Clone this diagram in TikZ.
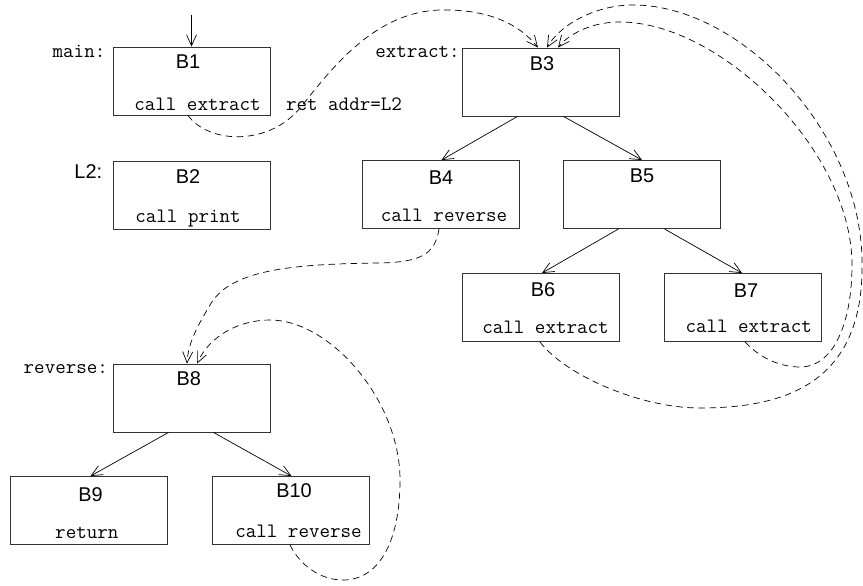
\documentclass[tikz,border=0pt]{standalone}
\usepackage{fontspec}
\setmainfont{Liberation Sans}
\usetikzlibrary{arrows.meta}
\begin{document}
\begin{tikzpicture}[x=1bp,y=-1bp,
  box/.style={draw=black!80, line width=0.9bp, minimum width=157bp, minimum height=68bp, inner sep=0pt},
  ttl/.style={font=\fontsize{20}{22}\selectfont, inner sep=0pt, anchor=base},
  code/.style={font=\fontsize{20.5}{22}\selectfont\ttfamily, inner sep=0pt, anchor=base},
  arr/.style={-{Straight Barb[length=11bp,width=10bp]}, line width=0.7bp},
  dsh/.style={arr, dash pattern=on 6.5bp off 4.5bp}]
\useasboundingbox (0,0) rectangle (863,586);
% boxes
\node[box] (b1) at (191.5,81) {};
\node[box] (b2) at (191.5,195.5) {};
\node[box] (b3) at (540.5,82) {};
\node[box] (b4) at (440.5,194.5) {};
\node[box] (b5) at (641.5,194.5) {};
\node[box] (b6) at (540.5,307.5) {};
\node[box] (b7) at (742.5,307.5) {};
\node[box] (b8) at (191.5,398) {};
\node[box] (b9) at (88.5,510.5) {};
\node[box] (b10) at (290.5,510.5) {};
% titles
\node[ttl] (t1) at (188,69) {B1};
\node[ttl] (t2) at (188,184) {B2};
\node[ttl] (t3) at (542,71) {B3};
\node[ttl] (t4) at (441,185) {B4};
\node[ttl] (t5) at (642,183) {B5};
\node[ttl] (t6) at (543,296) {B6};
\node[ttl] (t7) at (746,297) {B7};
\node[ttl] (t8) at (188.7,385) {B8};
\node[ttl] (t9) at (90.5,501) {B9};
\node[ttl] (t10) at (294,497) {B10};
% code lines
\node[code] (c1) at (197.5,111) {call extract};
\node[code] (c2) at (188,223) {call print};
\node[code] (c4) at (444,221.7) {call reverse};
\node[code] (c6) at (545.5,333.3) {call extract};
\node[code] (c7) at (748.7,332.3) {call extract};
\node[code] (c9) at (86.8,538.3) {return};
\node[code] (c10) at (298.5,537.7) {call reverse};
% labels
\node[code] (lmain) at (79,57.3) {main:};
\node[code] (lext) at (417.5,57.3) {extract:};
\node[code] (lrev) at (65.8,373.3) {reverse:};
\node[code] (lret) at (344,111) {ret addr=L2};
\node[ttl] (ll2) at (88.3,179) {L2:};
% entry arrow
\coordinate (entry) at (191.5,15);
\draw[arr] (entry) -- (b1.north);
% tree edges
\draw[arr] ([xshift=-23bp]b3.south) -- ([xshift=1bp]b4.north);
\draw[arr] ([xshift=23bp]b3.south) -- ([xshift=0.5bp]b5.north);
\draw[arr] ([xshift=-23bp]b5.south) -- ([xshift=1.5bp]b6.north);
\draw[arr] ([xshift=23bp]b5.south) -- ([xshift=-0.5bp]b7.north);
\draw[arr] ([xshift=-23bp]b8.south) -- ([xshift=2bp]b9.north);
\draw[arr] ([xshift=22bp]b8.south) -- ([xshift=1bp]b10.north);
% call / return dashed curves
\draw[dsh] ([xshift=-3.5bp]b1.south) .. controls (210,145) and (270,145) .. (300,108)
  .. controls (325,78) and (370,12) .. (440,10)
  .. controls (490,9) and (520,25) .. ([xshift=-2.5bp]b3.north);
\draw[dsh] ([xshift=-0.5bp]b6.south) .. controls (565,375) and (640,408) .. (700,408)
  .. controls (790,408) and (865,380) .. (862,260)
  .. controls (860,130) and (740,5) .. (633,5)
  .. controls (595,5) and (560,25) .. ([xshift=6.5bp]b3.north);
\draw[dsh] ([xshift=2.5bp]b7.south) .. controls (760,358) and (780,367) .. (800,367)
  .. controls (835,367) and (852,320) .. (852,265)
  .. controls (852,150) and (720,22) .. (620,22)
  .. controls (590,22) and (568,35) .. ([xshift=17.5bp]b3.north);
\draw[dsh] ([xshift=-1.5bp]b4.south) .. controls (435,255) and (420,262) .. (380,263)
  .. controls (290,264) and (230,270) .. (210,305)
  .. controls (195,330) and (188,345) .. ([xshift=-4.5bp]b8.north);
\draw[dsh] ([xshift=-0.5bp]b10.south) .. controls (300,565) and (320,580) .. (343,580)
  .. controls (380,580) and (400,540) .. (400,480)
  .. controls (400,400) and (330,320) .. (270,320)
  .. controls (240,320) and (210,335) .. ([xshift=5.5bp]b8.north);
\end{tikzpicture}
\end{document}
